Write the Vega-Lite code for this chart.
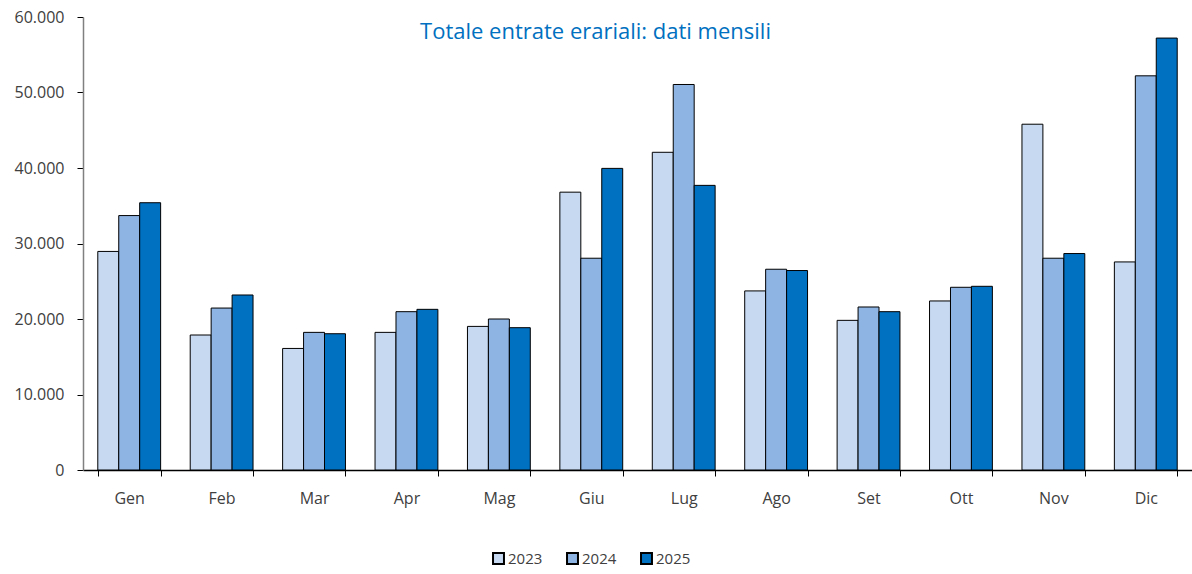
{
  "$schema": "https://vega.github.io/schema/vega-lite/v6.json",
  "autosize": {"type": "fit", "contains": "padding"},
  "width": 1192,
  "height": 574,
  "padding": {"left": 14, "top": 9, "right": 0, "bottom": 68},
  "background": "white",
  "title": {
    "text": "Totale entrate erariali: dati mensili",
    "font": "Open Sans",
    "fontSize": 22,
    "fontWeight": "normal",
    "color": "#0070C0",
    "anchor": "middle",
    "baseline": "alphabetic",
    "offset": -52,
    "dx": -42
  },
  "data": {
    "values": [
      {"mese": "Gen", "anno": "2023", "valore": 28950},
      {"mese": "Gen", "anno": "2024", "valore": 33700},
      {"mese": "Gen", "anno": "2025", "valore": 35400},
      {"mese": "Feb", "anno": "2023", "valore": 17880},
      {"mese": "Feb", "anno": "2024", "valore": 21450},
      {"mese": "Feb", "anno": "2025", "valore": 23180},
      {"mese": "Mar", "anno": "2023", "valore": 16100},
      {"mese": "Mar", "anno": "2024", "valore": 18230},
      {"mese": "Mar", "anno": "2025", "valore": 18050},
      {"mese": "Apr", "anno": "2023", "valore": 18230},
      {"mese": "Apr", "anno": "2024", "valore": 20970},
      {"mese": "Apr", "anno": "2025", "valore": 21280},
      {"mese": "Mag", "anno": "2023", "valore": 19020},
      {"mese": "Mag", "anno": "2024", "valore": 20000},
      {"mese": "Mag", "anno": "2025", "valore": 18850},
      {"mese": "Giu", "anno": "2023", "valore": 36800},
      {"mese": "Giu", "anno": "2024", "valore": 28050},
      {"mese": "Giu", "anno": "2025", "valore": 39950},
      {"mese": "Lug", "anno": "2023", "valore": 42080},
      {"mese": "Lug", "anno": "2024", "valore": 51060},
      {"mese": "Lug", "anno": "2025", "valore": 37700},
      {"mese": "Ago", "anno": "2023", "valore": 23720},
      {"mese": "Ago", "anno": "2024", "valore": 26590},
      {"mese": "Ago", "anno": "2025", "valore": 26420},
      {"mese": "Set", "anno": "2023", "valore": 19820},
      {"mese": "Set", "anno": "2024", "valore": 21590},
      {"mese": "Set", "anno": "2025", "valore": 20970},
      {"mese": "Ott", "anno": "2023", "valore": 22390},
      {"mese": "Ott", "anno": "2024", "valore": 24200},
      {"mese": "Ott", "anno": "2025", "valore": 24330},
      {"mese": "Nov", "anno": "2023", "valore": 45800},
      {"mese": "Nov", "anno": "2024", "valore": 28050},
      {"mese": "Nov", "anno": "2025", "valore": 28670},
      {"mese": "Dic", "anno": "2023", "valore": 27560},
      {"mese": "Dic", "anno": "2024", "valore": 52210},
      {"mese": "Dic", "anno": "2025", "valore": 57210}
    ]
  },
  "mark": {"type": "bar", "stroke": "#000000", "strokeWidth": 1},
  "encoding": {
    "x": {
      "field": "mese",
      "type": "nominal",
      "sort": null,
      "scale": {"paddingInner": 0.32, "paddingOuter": 0.16},
      "axis": {
        "title": null,
        "labelAngle": 0,
        "labelFont": "Open Sans",
        "labelFontSize": 16,
        "labelColor": "#404040",
        "labelPadding": 14,
        "tickBand": "extent",
        "tickSize": 6,
        "tickColor": "#000000",
        "domainColor": "#000000",
        "domainWidth": 1.5
      }
    },
    "xOffset": {"field": "anno", "type": "nominal"},
    "y": {
      "field": "valore",
      "type": "quantitative",
      "scale": {"domain": [0, 60000], "nice": false},
      "axis": {
        "title": null,
        "values": [0, 10000, 20000, 30000, 40000, 50000, 60000],
        "labelExpr": "replace(format(datum.value, ','), ',', '.')",
        "labelFont": "Open Sans",
        "labelFontSize": 16,
        "labelColor": "#404040",
        "labelPadding": 13,
        "tickSize": 6,
        "tickColor": "#000000",
        "domainColor": "#808080",
        "domainWidth": 1.5,
        "grid": false
      }
    },
    "color": {
      "field": "anno",
      "type": "nominal",
      "scale": {"domain": ["2023", "2024", "2025"], "range": ["#C6D9F1", "#8EB4E3", "#0070C0"]},
      "legend": {
        "title": null,
        "orient": "none",
        "legendX": 408,
        "legendY": 534,
        "direction": "horizontal",
        "symbolType": "square",
        "symbolSize": 120,
        "symbolStrokeColor": "#000000",
        "symbolStrokeWidth": 2,
        "labelFont": "Open Sans",
        "labelFontSize": 15,
        "labelColor": "#404040",
        "labelOffset": 2,
        "columnPadding": 20
      }
    }
  },
  "config": {
    "view": {"stroke": null}
  }
}
